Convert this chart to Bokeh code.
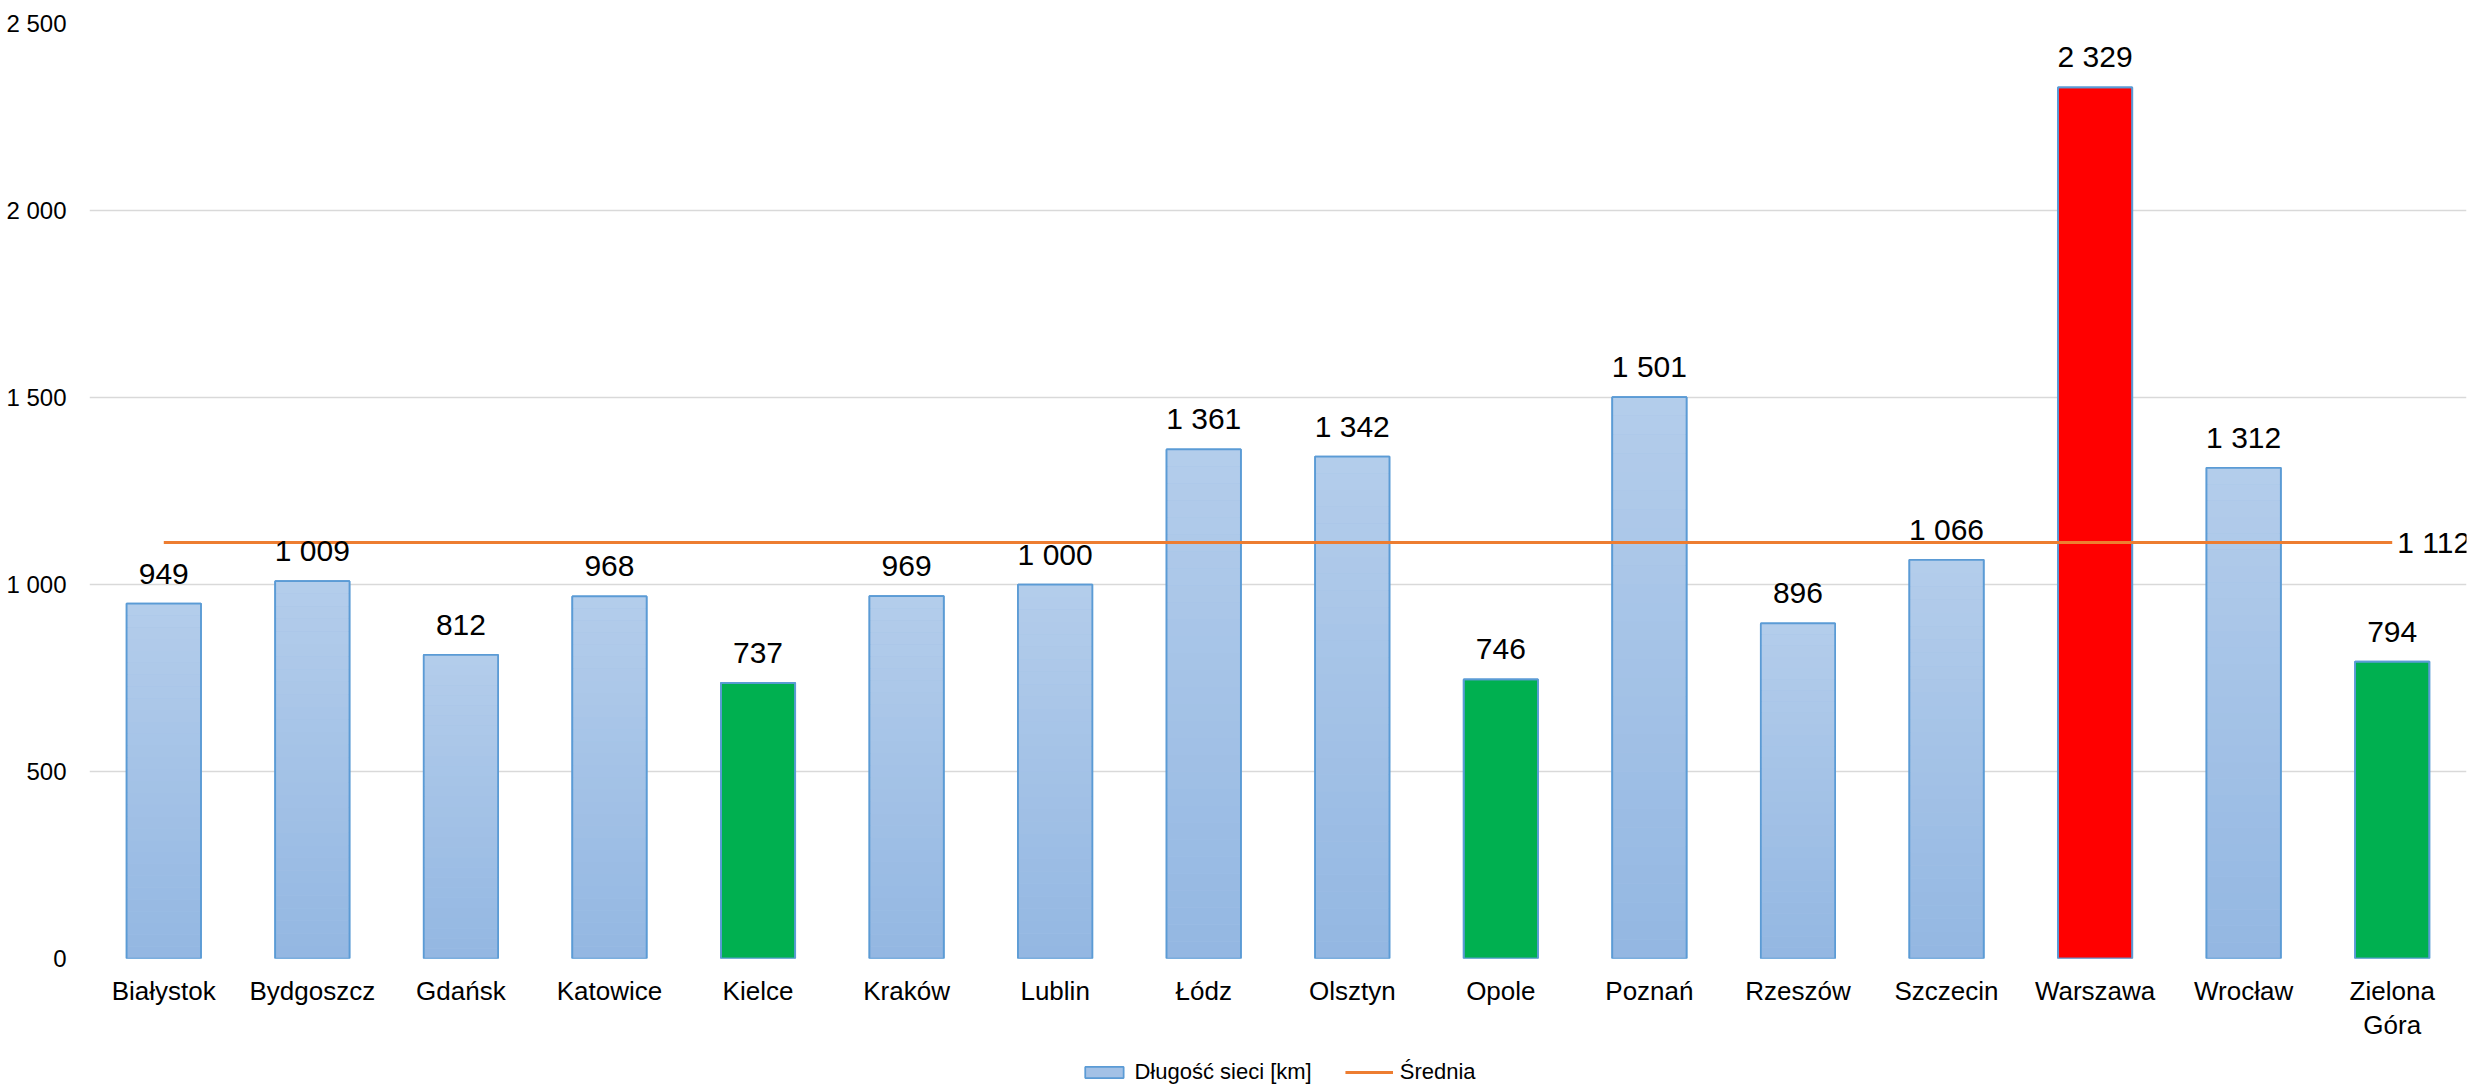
from bokeh.plotting import figure
from bokeh.layouts import column
from bokeh.models import ColumnDataSource, LabelSet, Legend, LegendItem, FixedTicker, Range1d, FactorRange
from bokeh.core.properties import value
from bokeh.embed import file_html
from bokeh.resources import INLINE

# ---- data ----
cities = ["Białystok", "Bydgoszcz", "Gdańsk", "Katowice", "Kielce", "Kraków", "Lublin", "Łódz",
          "Olsztyn", "Opole", "Poznań", "Rzeszów", "Szczecin", "Warszawa", "Wrocław", "Zielona\nGóra"]
lengths = [949, 1009, 812, 968, 737, 969, 1000, 1361, 1342, 746, 1501, 896, 1066, 2329, 1312, 794]
kinds = ["base", "base", "base", "base", "low", "base", "base", "base", "base", "low",
         "base", "base", "base", "high", "base", "low"]
average = 1112
y_ticks = [0, 500, 1000, 1500, 2000, 2500]
y_tick_labels = ["0", "500", "1 000", "1 500", "2 000", "2 500"]
series_names = ["Długość sieci [km]", "Średnia"]

# ---- styles ----
FONT = "Liberation Sans"
kind_colors = {"base": "#a3c1e6", "low": "#00b050", "high": "#ff0000"}
grad_top = (180, 205, 235)
grad_bottom = (147, 183, 226)
outline = "#5b9bd5"
orange = "#ed7d31"
NAN = float("nan")


def fmt(v):
    return f"{v:,}".replace(",", " ")


src = ColumnDataSource(dict(
    city=cities,
    val=lengths,
    color=[kind_colors[k] for k in kinds],
    label=[fmt(v) for v in lengths],
))

# gradient slices for the standard (blue) bars
N = 30
gx, gb, gt, gc = [], [], [], []
for c, v, k in zip(cities, lengths, kinds):
    if k != "base":
        continue
    for i in range(N):
        f = (i + 0.5) / N
        r = round(grad_bottom[0] + (grad_top[0] - grad_bottom[0]) * f)
        g = round(grad_bottom[1] + (grad_top[1] - grad_bottom[1]) * f)
        b = round(grad_bottom[2] + (grad_top[2] - grad_bottom[2]) * f)
        gx.append(c)
        gb.append(v * i / N)
        gt.append(v * (i + 1) / N)
        gc.append(f"#{r:02x}{g:02x}{b:02x}")
grad_src = ColumnDataSource(dict(x=gx, bottom=gb, top=gt, color=gc))

avg_src = ColumnDataSource(dict(city=cities, val=[average] * len(cities)))
avg_label_src = ColumnDataSource(dict(city=[cities[-1]], val=[average], label=[fmt(average)]))

p = figure(
    x_range=FactorRange(factors=cities, range_padding=0),
    y_range=Range1d(0, 2500),
    frame_width=2377, frame_height=935,
    min_border_left=89, min_border_right=4, min_border_top=23, min_border_bottom=0,
    output_backend="svg", toolbar_location=None,
)
p.outline_line_color = None
p.background_fill_color = "white"
p.border_fill_color = "white"

base = p.vbar(x="city", top="val", width=0.5, source=src, fill_color="color",
              line_color=outline, line_width=1.75)
p.vbar(x="x", bottom="bottom", top="top", width=0.5, source=grad_src,
       fill_color="color", line_color=None)
p.vbar(x="city", top="val", width=0.5, source=src, fill_color=None,
       line_color=outline, line_width=1.75)

avg_line = p.line(x="city", y="val", source=avg_src, line_color=orange, line_width=3)

labels = LabelSet(x="city", y="val", text="label", source=src, text_align="center",
                  text_baseline="alphabetic", y_offset=20, text_font=value(FONT),
                  text_font_size="30px", text_color="black")
p.add_layout(labels)

avg_lab = LabelSet(x="city", y="val", text="label", source=avg_label_src, text_align="left",
                   text_baseline="middle", x_offset=5, text_font=value(FONT),
                   text_font_size="30px", text_color="black")
p.add_layout(avg_lab)

# axes
p.xaxis.axis_line_color = None
p.xaxis.major_tick_line_color = None
p.xaxis.minor_tick_line_color = None
p.xaxis.major_tick_out = 0
p.xaxis.major_label_standoff = 17
p.xaxis.major_label_text_font = FONT
p.xaxis.major_label_text_font_size = "26px"
p.xaxis.major_label_text_color = "black"
p.xaxis.major_label_text_line_height = 1.15

p.yaxis.ticker = FixedTicker(ticks=y_ticks)
p.yaxis.major_label_overrides = {t: l for t, l in zip(y_ticks, y_tick_labels)}
p.yaxis.axis_line_color = None
p.yaxis.major_tick_line_color = None
p.yaxis.minor_tick_line_color = None
p.yaxis.major_tick_out = 0
p.yaxis.major_label_standoff = 23
p.yaxis.major_label_text_font = FONT
p.yaxis.major_label_text_font_size = "24px"
p.yaxis.major_label_text_color = "black"

p.xgrid.grid_line_color = None
p.ygrid.grid_line_color = "#d9d9d9"
p.ygrid.grid_line_width = 1.5
p.ygrid.ticker = FixedTicker(ticks=y_ticks)

# ---- legend strip below the chart ----
leg = figure(
    width=2470, height=44,
    x_range=Range1d(0, 1), y_range=Range1d(0, 1),
    x_axis_type=None, y_axis_type=None,
    min_border=0, output_backend="svg", toolbar_location=None,
)
leg.outline_line_color = None
leg.xgrid.grid_line_color = None
leg.ygrid.grid_line_color = None
# legend-key renderers (no visible marks: NaN data, only used for the legend glyphs)
leg_bar = leg.vbar(x=[NAN], top=[NAN], width=0.5, fill_color=kind_colors["base"],
                   line_color=outline, line_width=1.75)
leg_line = leg.line(x=[NAN, NAN], y=[NAN, NAN], line_color=orange, line_width=3)

legend = Legend(
    items=[LegendItem(label=series_names[0], renderers=[leg_bar]),
           LegendItem(label=series_names[1], renderers=[leg_line])],
    orientation="horizontal",
    location="bottom",
    padding=0, margin=2, spacing=33,
    glyph_width=48, glyph_height=14, label_standoff=7,
    label_text_font=FONT, label_text_font_size="22px", label_text_color="black",
    border_line_color=None, background_fill_alpha=0,
)
leg.add_layout(legend, "center")

layout = column(p, leg, spacing=0)
open("out.html", "w").write(file_html(layout, INLINE))
